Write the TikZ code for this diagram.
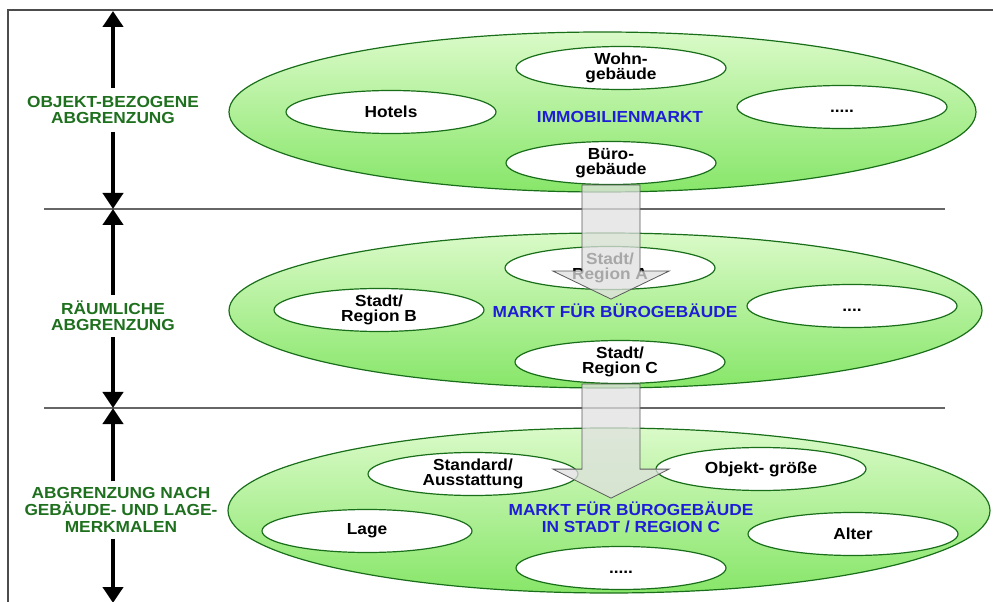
\documentclass[tikz,border=0pt]{standalone}
\usepackage{fontspec}
\setmainfont[FakeStretch=1.08]{Liberation Sans}
\usepackage{xcolor}
\usepackage{tikz}
\usetikzlibrary{arrows.meta,shapes.geometric}
\definecolor{ringgreen}{RGB}{25,110,25}
\definecolor{labgreen}{RGB}{30,112,30}
\definecolor{marketblue}{RGB}{30,30,215}
\definecolor{filltop}{RGB}{218,250,200}
\definecolor{fillbot}{RGB}{135,230,105}

\begin{document}
\begin{tikzpicture}[x=0.75pt,y=-0.75pt,
  market/.style={ellipse,draw=ringgreen,line width=0.9pt,top color=filltop,bottom color=fillbot,inner sep=0pt},
  segment/.style={ellipse,draw=ringgreen,line width=0.9pt,fill=white,inner sep=0pt,inner ysep=-2pt,minimum width=157.5pt,minimum height=32.25pt,align=center,font=\bfseries\fontsize{12}{11.5}\selectfont},
  marketname/.style={text=marketblue,align=center,font=\bfseries\fontsize{12}{12.5}\selectfont},
  bandlabel/.style={text=labgreen,align=center,inner xsep=2pt,inner ysep=6pt,font=\bfseries\fontsize{12}{12}\selectfont},
  bandarrow/.style={-{Triangle[width=15pt,length=12pt]},line width=3pt},
  sepline/.style={draw=black!60,line width=0.8pt},
  blockarr/.style={draw=black!65,line width=0.6pt,fill=black!12,fill opacity=0.75}]
\useasboundingbox (0,0) rectangle (993,602);
\draw[black!70,line width=0.8pt] (8,602) -- (8,10) -- (993,10);
\draw[sepline] (44,209) -- (945,209);
\draw[sepline] (44,408) -- (945,408);

\coordinate (top1) at (113,11);
\coordinate (bot1) at (113,209);
\coordinate (top2) at (113,209);
\coordinate (bot2) at (113,408);
\coordinate (top3) at (113,408);
\coordinate (bot3) at (113,603);
\node[bandlabel] (objlab) at (113,110) {OBJEKT-BEZOGENE\\ABGRENZUNG};
\node[bandlabel,inner ysep=4.5pt] (raumlab) at (113,316) {RÄUMLICHE\\ABGRENZUNG};
\node[bandlabel,inner ysep=4.5pt,font=\bfseries\fontsize{12}{12.5}\selectfont] (merklab) at (121,510) {ABGRENZUNG NACH\\GEBÄUDE- UND LAGE-\\MERKMALEN};
\draw[bandarrow] (objlab) -- (top1);
\draw[bandarrow] (objlab) -- (bot1);
\draw[bandarrow] (raumlab) -- (top2);
\draw[bandarrow] (raumlab) -- (bot2);
\draw[bandarrow] (merklab.north -| top3) -- (top3);
\draw[bandarrow] (merklab.south -| bot3) -- (bot3);

\node[market,minimum width=560.25pt,minimum height=120pt] (immomarkt) at (602.5,112) {};
\node[segment] (wohn) at (621,68) {Wohn-\\gebäude};
\node[segment] (hotels) at (391,112) {Hotels};
\node[segment] (weitere1) at (842,107) {\vphantom{H}.....};
\node[segment] (buero) at (611,163) {Büro-\\gebäude};
\node[marketname] (immoname) at (620,117) {IMMOBILIENMARKT};

\node[market,minimum width=564.75pt,minimum height=116.25pt] (bueromarkt) at (605.5,310.5) {};
\node[segment] (regiona) at (610,268) {Stadt/\\Region A};
\node[segment] (regionb) at (379,310) {Stadt/\\Region B};
\node[segment] (weitere2) at (852,306) {\vphantom{H}....};
\node[segment] (regionc) at (620,362) {Stadt/\\Region C};
\node[marketname] (bueroname) at (615,311) {MARKT FÜR BÜROGEBÄUDE};

\node[market,minimum width=571.5pt,minimum height=123.75pt] (teilmarkt) at (609,510.5) {};
\node[segment] (standard) at (473,474) {Standard/\\Ausstattung};
\node[segment] (groesse) at (761,469) {Objekt- größe};
\node[segment] (lage) at (367,531) {Lage};
\node[segment] (alter) at (853,534) {Alter};
\node[segment] (weitere3) at (621,568) {\vphantom{H}.....};
\node[marketname] (teilname) at (631,517) {MARKT FÜR BÜROGEBÄUDE\\IN STADT / REGION C};

\coordinate (arr1) at (buero.south);
\coordinate (arr2) at (regionc.south -| buero.south);
\draw[blockarr] (arr1) ++(-29,0) -- ++(0,86) -- ++(-29,0) -- ++(58,28) -- ++(58,-28) -- ++(-29,0) -- ++(0,-86) -- cycle;
\draw[blockarr] (arr2) ++(-29,0) -- ++(0,85) -- ++(-29,0) -- ++(58,29) -- ++(58,-29) -- ++(-29,0) -- ++(0,-85) -- cycle;
\end{tikzpicture}
\end{document}
